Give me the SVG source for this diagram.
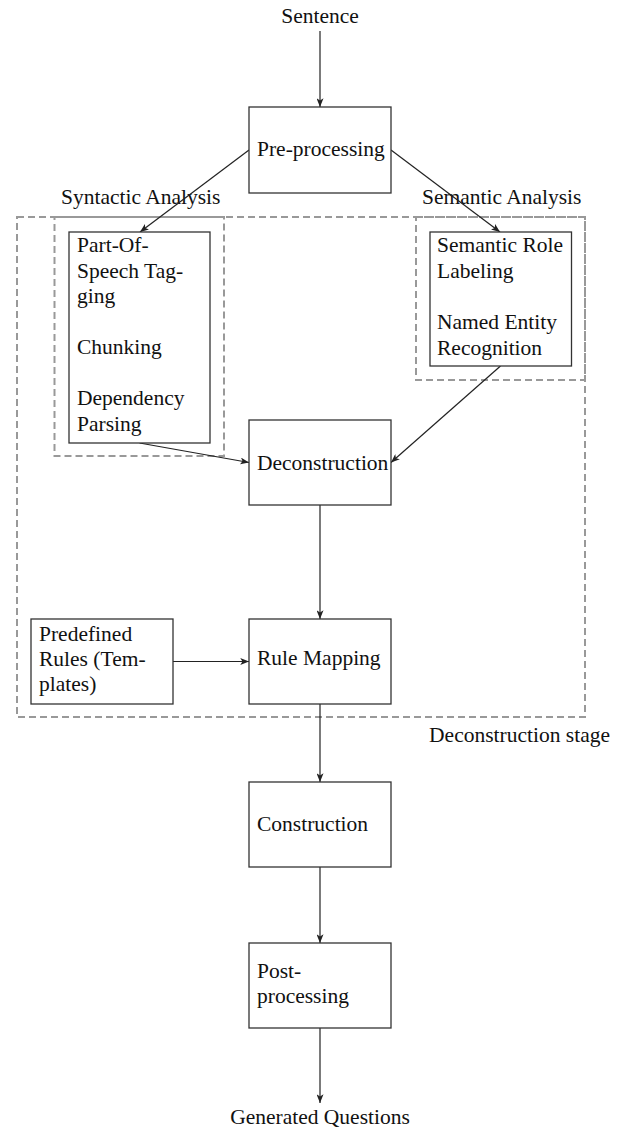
<svg xmlns="http://www.w3.org/2000/svg" width="620" height="1130" viewBox="0 0 620 1130">
<defs>
<style>
text{font-family:"Liberation Serif","Times New Roman",serif;font-size:21.5px;fill:#111}
.box{fill:#fff;stroke:#333;stroke-width:1.3}
.dash{fill:none;stroke:#999;stroke-width:2;stroke-dasharray:7 4}
.edge{stroke:#222;stroke-width:1.2;fill:none;marker-end:url(#ah)}
.c{text-anchor:middle}
</style>
<marker id="ah" viewBox="0 0 10 8" refX="10" refY="4" markerWidth="9" markerHeight="7" markerUnits="userSpaceOnUse" orient="auto">
<path d="M0,0 L10,4 L0,8 L2.5,4 Z" fill="#222"/>
</marker>
</defs>
<rect fill="#fff" x="0" y="0" width="620" height="1130"/>

<g id="stage-deconstruction">
<rect class="dash" x="17" y="217" width="568" height="500"/>
<text x="610" y="742" text-anchor="end">Deconstruction stage</text>
</g>
<g id="group-syntactic">
<rect class="dash" x="54.5" y="217" width="169.5" height="239"/>
<text x="61" y="204">Syntactic Analysis</text>
</g>
<g id="group-semantic">
<rect class="dash" x="416" y="217" width="169" height="163"/>
<text x="422" y="204">Semantic Analysis</text>
</g>

<g id="connectors">
<line class="edge" x1="320" y1="31" x2="320" y2="107"/>
<line class="edge" x1="249" y1="150" x2="140" y2="232"/>
<line class="edge" x1="391" y1="150" x2="500" y2="232"/>
<line class="edge" x1="139.5" y1="443" x2="249" y2="462.5"/>
<line class="edge" x1="500.5" y1="366" x2="391" y2="462.5"/>
<line class="edge" x1="320" y1="505" x2="320" y2="619"/>
<line class="edge" x1="173" y1="661.5" x2="249" y2="661.5"/>
<line class="edge" x1="320" y1="704" x2="320" y2="782"/>
<line class="edge" x1="320" y1="867" x2="320" y2="943"/>
<line class="edge" x1="320" y1="1028" x2="320" y2="1103"/>
</g>

<g id="sentence"><text class="c" x="320" y="23">Sentence</text></g>
<g id="preprocessing">
<rect class="box" x="249" y="107" width="142" height="86"/>
<text x="257" y="156">Pre-processing</text>
</g>
<g id="syntactic-tasks">
<rect class="box" x="69" y="232" width="141" height="211"/>
<text x="77" y="252">Part-Of-</text>
<text x="77" y="277.5">Speech Tag-</text>
<text x="77" y="303">ging</text>
<text x="77" y="354">Chunking</text>
<text x="77" y="405">Dependency</text>
<text x="77" y="430.5">Parsing</text>
</g>
<g id="semantic-tasks">
<rect class="box" x="430" y="232" width="141.5" height="134"/>
<text x="437" y="252">Semantic Role</text>
<text x="437" y="277.5">Labeling</text>
<text x="437" y="329">Named Entity</text>
<text x="437" y="354.5">Recognition</text>
</g>
<g id="deconstruction">
<rect class="box" x="249" y="420" width="142" height="85"/>
<text x="257" y="470">Deconstruction</text>
</g>
<g id="predefined-rules">
<rect class="box" x="31" y="619" width="142" height="85"/>
<text x="39" y="641">Predefined</text>
<text x="39" y="666">Rules (Tem-</text>
<text x="39" y="691">plates)</text>
</g>
<g id="rule-mapping">
<rect class="box" x="249" y="619" width="142" height="85"/>
<text x="257" y="665">Rule Mapping</text>
</g>
<g id="construction">
<rect class="box" x="249" y="782" width="142" height="85"/>
<text x="257" y="831">Construction</text>
</g>
<g id="postprocessing">
<rect class="box" x="249" y="943" width="142" height="85"/>
<text x="257" y="978">Post-</text>
<text x="257" y="1003">processing</text>
</g>
<g id="generated-questions"><text class="c" x="320" y="1124">Generated Questions</text></g>
</svg>
